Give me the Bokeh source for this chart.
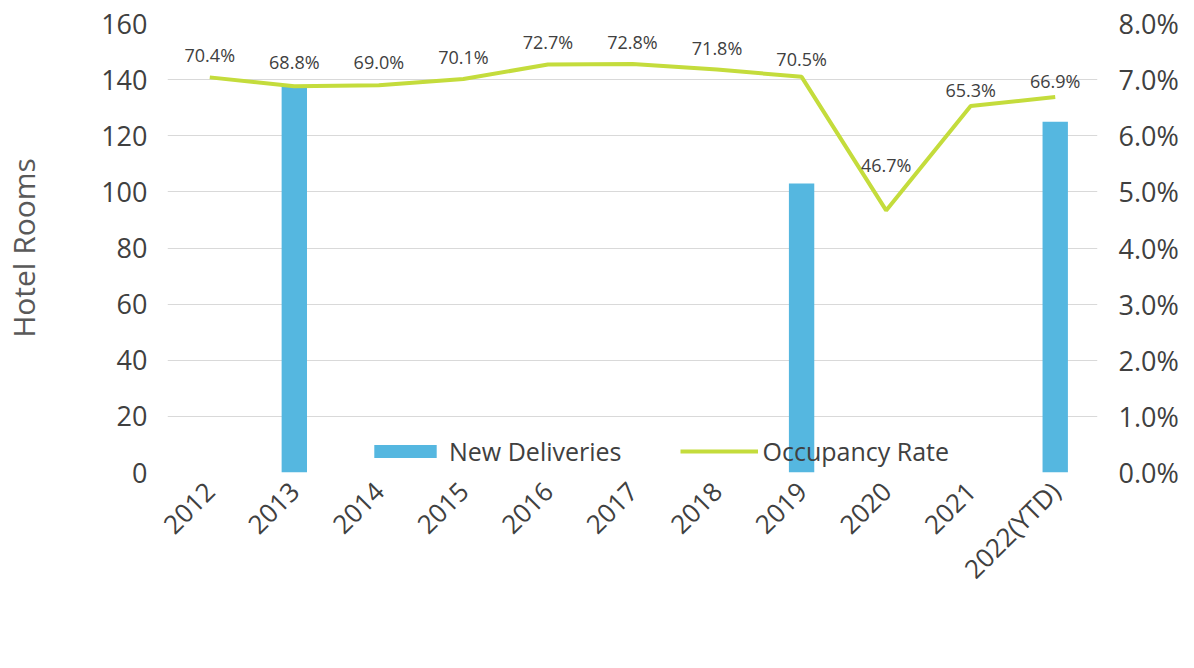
from bokeh.plotting import figure
from bokeh.models import (Range1d, LinearAxis, FactorRange, Legend, LegendItem,
                          ColumnDataSource, PrintfTickFormatter, FixedTicker)
from bokeh.core.properties import value
from bokeh.embed import file_html
from bokeh.resources import INLINE
import math

# ---- data ----
years = ["2012", "2013", "2014", "2015", "2016", "2017", "2018", "2019", "2020", "2021", "2022(YTD)"]
new_deliveries = [0, 138, 0, 0, 0, 0, 0, 103, 0, 0, 125]
occupancy_rate = [70.4, 68.8, 69.0, 70.1, 72.7, 72.8, 71.8, 70.5, 46.7, 65.3, 66.9]
left_ticks = [0, 20, 40, 60, 80, 100, 120, 140, 160]
right_ticks = [0, 1, 2, 3, 4, 5, 6, 7, 8]

# label offsets (style, pixels above the point)
label_dy = [22, 24, 23, 22, 22, 22, 22, 18, 45, 16, 16]

FONT = "Open Sans"
TXT = "#404040"
BAR = "#55B7E0"
LINE = "#C4DC3C"

src = ColumnDataSource(dict(
    x=years,
    bars=new_deliveries,
    occ=[v / 10 for v in occupancy_rate],   # drawn against the 0-8% right axis, as in the source chart
    lab=["%.1f%%" % v for v in occupancy_rate],
    dy=[-d for d in label_dy],
))

p = figure(x_range=FactorRange(*years, range_padding=0), y_range=Range1d(0, 160),
           width=1186, height=660, output_backend="svg", toolbar_location=None,
           min_border_left=158, min_border_right=89, min_border_top=23, min_border_bottom=188)
p.extra_y_ranges = {"occ": Range1d(0, 8)}
p.outline_line_color = None
p.background_fill_color = "white"

bars = p.vbar(x="x", top="bars", width=0.3, source=src, fill_color=BAR, line_color=None)
line = p.line(x="x", y="occ", source=src, y_range_name="occ", line_color=LINE, line_width=4)
p.text(x="x", y="occ", text="lab", source=src, y_range_name="occ", y_offset="dy",
       text_align="center", text_baseline="middle", text_font=value(FONT),
       text_font_size="18px", text_color=TXT)

# left axis
ya = p.yaxis[0]
ya.ticker = FixedTicker(ticks=left_ticks)
ya.axis_label = "Hotel Rooms"
ya.axis_label_text_font = FONT
ya.axis_label_text_font_style = "normal"
ya.axis_label_text_font_size = "30px"
ya.axis_label_text_color = "#595959"
ya.axis_label_standoff = 54
ya.major_label_text_font = FONT
ya.major_label_text_font_size = "27px"
ya.major_label_text_color = TXT
ya.major_label_standoff = 14

# right axis
ra = LinearAxis(y_range_name="occ", ticker=FixedTicker(ticks=right_ticks),
                formatter=PrintfTickFormatter(format="%.1f%%"))
ra.major_label_text_font = FONT
ra.major_label_text_font_size = "27px"
ra.major_label_text_color = TXT
ra.major_label_standoff = 15
p.add_layout(ra, "right")

for ax in (ya, ra, p.xaxis[0]):
    ax.axis_line_color = None
    ax.major_tick_line_color = None
    ax.minor_tick_line_color = None

xa = p.xaxis[0]
xa.major_label_orientation = math.pi / 4
xa.major_label_text_font = FONT
xa.major_label_text_font_size = "26px"
xa.major_label_text_color = TXT
xa.major_label_standoff = 8

p.xgrid.grid_line_color = None
p.ygrid.grid_line_color = "#d9d9d9"
p.ygrid.ticker = FixedTicker(ticks=left_ticks)

legend = Legend(items=[LegendItem(label="New Deliveries", renderers=[bars]),
                       LegendItem(label="Occupancy Rate", renderers=[line])],
                location=(199, 4), orientation="horizontal",
                glyph_width=78, glyph_height=16, label_text_font=FONT,
                label_text_font_size="25px", label_text_color=TXT,
                spacing=58, padding=0, margin=0, label_standoff=5,
                border_line_alpha=0, background_fill_alpha=0)
p.add_layout(legend, "center")

open("out.html", "w").write(file_html(p, INLINE))
